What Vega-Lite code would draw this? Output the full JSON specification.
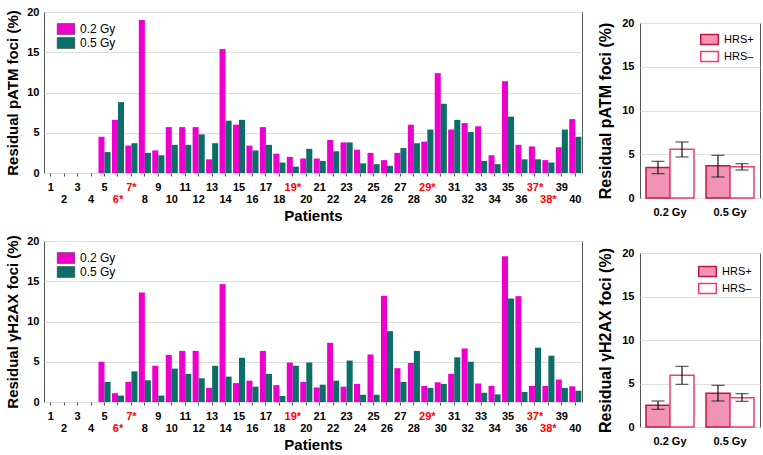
{
  "$schema": "https://vega.github.io/schema/vega-lite/v6.json",
  "padding": {"left": 5, "top": 5, "right": 4, "bottom": 2},
  "background": "white",
  "config": {
    "font": "Liberation Sans",
    "view": {"stroke": "#555555", "strokeWidth": 1},
    "axis": {"labelFont": "Liberation Sans", "titleFont": "Liberation Sans", "labelFontWeight": "bold", "titleFontWeight": "bold", "labelColor": "#000000", "titleColor": "#000000", "domain": false, "gridColor": "#dddddd", "gridWidth": 1},
    "legend": {"labelFont": "Liberation Sans", "labelColor": "#000000"}
  },
  "resolve": {"scale": {"xOffset": "independent", "color": "independent", "fill": "independent", "stroke": "independent"}, "legend": {"color": "independent", "fill": "independent", "stroke": "independent"}},
  "datasets": {
    "patm": [
      {"patient": 5, "dose": "0.2 Gy", "value": 4.5}, {"patient": 5, "dose": "0.5 Gy", "value": 2.6},
      {"patient": 6, "dose": "0.2 Gy", "value": 6.6}, {"patient": 6, "dose": "0.5 Gy", "value": 8.8},
      {"patient": 7, "dose": "0.2 Gy", "value": 3.4}, {"patient": 7, "dose": "0.5 Gy", "value": 3.7},
      {"patient": 8, "dose": "0.2 Gy", "value": 19.0}, {"patient": 8, "dose": "0.5 Gy", "value": 2.5},
      {"patient": 9, "dose": "0.2 Gy", "value": 2.8}, {"patient": 9, "dose": "0.5 Gy", "value": 2.2},
      {"patient": 10, "dose": "0.2 Gy", "value": 5.7}, {"patient": 10, "dose": "0.5 Gy", "value": 3.5},
      {"patient": 11, "dose": "0.2 Gy", "value": 5.7}, {"patient": 11, "dose": "0.5 Gy", "value": 3.5},
      {"patient": 12, "dose": "0.2 Gy", "value": 5.7}, {"patient": 12, "dose": "0.5 Gy", "value": 4.8},
      {"patient": 13, "dose": "0.2 Gy", "value": 1.7}, {"patient": 13, "dose": "0.5 Gy", "value": 3.7},
      {"patient": 14, "dose": "0.2 Gy", "value": 15.4}, {"patient": 14, "dose": "0.5 Gy", "value": 6.5},
      {"patient": 15, "dose": "0.2 Gy", "value": 6.0}, {"patient": 15, "dose": "0.5 Gy", "value": 6.6},
      {"patient": 16, "dose": "0.2 Gy", "value": 3.4}, {"patient": 16, "dose": "0.5 Gy", "value": 2.8},
      {"patient": 17, "dose": "0.2 Gy", "value": 5.7}, {"patient": 17, "dose": "0.5 Gy", "value": 3.5},
      {"patient": 18, "dose": "0.2 Gy", "value": 2.4}, {"patient": 18, "dose": "0.5 Gy", "value": 1.3},
      {"patient": 19, "dose": "0.2 Gy", "value": 2.0}, {"patient": 19, "dose": "0.5 Gy", "value": 0.8},
      {"patient": 20, "dose": "0.2 Gy", "value": 1.8}, {"patient": 20, "dose": "0.5 Gy", "value": 3.0},
      {"patient": 21, "dose": "0.2 Gy", "value": 1.8}, {"patient": 21, "dose": "0.5 Gy", "value": 1.5},
      {"patient": 22, "dose": "0.2 Gy", "value": 4.1}, {"patient": 22, "dose": "0.5 Gy", "value": 2.7},
      {"patient": 23, "dose": "0.2 Gy", "value": 3.8}, {"patient": 23, "dose": "0.5 Gy", "value": 3.8},
      {"patient": 24, "dose": "0.2 Gy", "value": 2.9}, {"patient": 24, "dose": "0.5 Gy", "value": 1.2},
      {"patient": 25, "dose": "0.2 Gy", "value": 2.5}, {"patient": 25, "dose": "0.5 Gy", "value": 1.1},
      {"patient": 26, "dose": "0.2 Gy", "value": 1.6}, {"patient": 26, "dose": "0.5 Gy", "value": 0.9},
      {"patient": 27, "dose": "0.2 Gy", "value": 2.5}, {"patient": 27, "dose": "0.5 Gy", "value": 3.1},
      {"patient": 28, "dose": "0.2 Gy", "value": 6.0}, {"patient": 28, "dose": "0.5 Gy", "value": 3.7},
      {"patient": 29, "dose": "0.2 Gy", "value": 3.9}, {"patient": 29, "dose": "0.5 Gy", "value": 5.4},
      {"patient": 30, "dose": "0.2 Gy", "value": 12.4}, {"patient": 30, "dose": "0.5 Gy", "value": 8.6},
      {"patient": 31, "dose": "0.2 Gy", "value": 5.4}, {"patient": 31, "dose": "0.5 Gy", "value": 6.6},
      {"patient": 32, "dose": "0.2 Gy", "value": 6.2}, {"patient": 32, "dose": "0.5 Gy", "value": 5.1},
      {"patient": 33, "dose": "0.2 Gy", "value": 5.8}, {"patient": 33, "dose": "0.5 Gy", "value": 1.5},
      {"patient": 34, "dose": "0.2 Gy", "value": 2.2}, {"patient": 34, "dose": "0.5 Gy", "value": 1.1},
      {"patient": 35, "dose": "0.2 Gy", "value": 11.4}, {"patient": 35, "dose": "0.5 Gy", "value": 7.0},
      {"patient": 36, "dose": "0.2 Gy", "value": 3.5}, {"patient": 36, "dose": "0.5 Gy", "value": 1.7},
      {"patient": 37, "dose": "0.2 Gy", "value": 3.3}, {"patient": 37, "dose": "0.5 Gy", "value": 1.7},
      {"patient": 38, "dose": "0.2 Gy", "value": 1.6}, {"patient": 38, "dose": "0.5 Gy", "value": 1.3},
      {"patient": 39, "dose": "0.2 Gy", "value": 3.2}, {"patient": 39, "dose": "0.5 Gy", "value": 5.4},
      {"patient": 40, "dose": "0.2 Gy", "value": 6.7}, {"patient": 40, "dose": "0.5 Gy", "value": 4.5}
    ],
    "h2ax": [
      {"patient": 5, "dose": "0.2 Gy", "value": 5.0}, {"patient": 5, "dose": "0.5 Gy", "value": 2.5},
      {"patient": 6, "dose": "0.2 Gy", "value": 1.1}, {"patient": 6, "dose": "0.5 Gy", "value": 0.8},
      {"patient": 7, "dose": "0.2 Gy", "value": 2.5}, {"patient": 7, "dose": "0.5 Gy", "value": 3.8},
      {"patient": 8, "dose": "0.2 Gy", "value": 13.6}, {"patient": 8, "dose": "0.5 Gy", "value": 2.7},
      {"patient": 9, "dose": "0.2 Gy", "value": 4.5}, {"patient": 9, "dose": "0.5 Gy", "value": 0.8},
      {"patient": 10, "dose": "0.2 Gy", "value": 5.85}, {"patient": 10, "dose": "0.5 Gy", "value": 4.15},
      {"patient": 11, "dose": "0.2 Gy", "value": 6.35}, {"patient": 11, "dose": "0.5 Gy", "value": 3.5},
      {"patient": 12, "dose": "0.2 Gy", "value": 6.35}, {"patient": 12, "dose": "0.5 Gy", "value": 2.95},
      {"patient": 13, "dose": "0.2 Gy", "value": 1.75}, {"patient": 13, "dose": "0.5 Gy", "value": 4.5},
      {"patient": 14, "dose": "0.2 Gy", "value": 14.65}, {"patient": 14, "dose": "0.5 Gy", "value": 3.15},
      {"patient": 15, "dose": "0.2 Gy", "value": 2.35}, {"patient": 15, "dose": "0.5 Gy", "value": 5.5},
      {"patient": 16, "dose": "0.2 Gy", "value": 2.65}, {"patient": 16, "dose": "0.5 Gy", "value": 1.9},
      {"patient": 17, "dose": "0.2 Gy", "value": 6.35}, {"patient": 17, "dose": "0.5 Gy", "value": 3.5},
      {"patient": 18, "dose": "0.2 Gy", "value": 2.1}, {"patient": 18, "dose": "0.5 Gy", "value": 0.75},
      {"patient": 19, "dose": "0.2 Gy", "value": 4.9}, {"patient": 19, "dose": "0.5 Gy", "value": 4.5},
      {"patient": 20, "dose": "0.2 Gy", "value": 2.5}, {"patient": 20, "dose": "0.5 Gy", "value": 4.9},
      {"patient": 21, "dose": "0.2 Gy", "value": 1.8}, {"patient": 21, "dose": "0.5 Gy", "value": 2.15},
      {"patient": 22, "dose": "0.2 Gy", "value": 7.35}, {"patient": 22, "dose": "0.5 Gy", "value": 2.65},
      {"patient": 23, "dose": "0.2 Gy", "value": 1.9}, {"patient": 23, "dose": "0.5 Gy", "value": 5.15},
      {"patient": 24, "dose": "0.2 Gy", "value": 2.25}, {"patient": 24, "dose": "0.5 Gy", "value": 0.9},
      {"patient": 25, "dose": "0.2 Gy", "value": 5.9}, {"patient": 25, "dose": "0.5 Gy", "value": 0.9},
      {"patient": 26, "dose": "0.2 Gy", "value": 13.2}, {"patient": 26, "dose": "0.5 Gy", "value": 8.8},
      {"patient": 27, "dose": "0.2 Gy", "value": 4.2}, {"patient": 27, "dose": "0.5 Gy", "value": 2.5},
      {"patient": 28, "dose": "0.2 Gy", "value": 4.85}, {"patient": 28, "dose": "0.5 Gy", "value": 6.35},
      {"patient": 29, "dose": "0.2 Gy", "value": 2.0}, {"patient": 29, "dose": "0.5 Gy", "value": 1.75},
      {"patient": 30, "dose": "0.2 Gy", "value": 2.45}, {"patient": 30, "dose": "0.5 Gy", "value": 2.25},
      {"patient": 31, "dose": "0.2 Gy", "value": 3.5}, {"patient": 31, "dose": "0.5 Gy", "value": 5.55},
      {"patient": 32, "dose": "0.2 Gy", "value": 6.65}, {"patient": 32, "dose": "0.5 Gy", "value": 5.0},
      {"patient": 33, "dose": "0.2 Gy", "value": 2.3}, {"patient": 33, "dose": "0.5 Gy", "value": 1.15},
      {"patient": 34, "dose": "0.2 Gy", "value": 2.0}, {"patient": 34, "dose": "0.5 Gy", "value": 0.95},
      {"patient": 35, "dose": "0.2 Gy", "value": 18.1}, {"patient": 35, "dose": "0.5 Gy", "value": 12.85},
      {"patient": 36, "dose": "0.2 Gy", "value": 13.15}, {"patient": 36, "dose": "0.5 Gy", "value": 1.25},
      {"patient": 37, "dose": "0.2 Gy", "value": 2.0}, {"patient": 37, "dose": "0.5 Gy", "value": 6.75},
      {"patient": 38, "dose": "0.2 Gy", "value": 2.0}, {"patient": 38, "dose": "0.5 Gy", "value": 5.75},
      {"patient": 39, "dose": "0.2 Gy", "value": 2.8}, {"patient": 39, "dose": "0.5 Gy", "value": 1.75},
      {"patient": 40, "dose": "0.2 Gy", "value": 1.95}, {"patient": 40, "dose": "0.5 Gy", "value": 1.4}
    ],
    "patm_sum": [
      {"dose": "0.2 Gy", "group": "HRS+", "mean": 3.5, "lo": 2.78, "hi": 4.19},
      {"dose": "0.2 Gy", "group": "HRS–", "mean": 5.56, "lo": 4.69, "hi": 6.4},
      {"dose": "0.5 Gy", "group": "HRS+", "mean": 3.7, "lo": 2.4, "hi": 4.88},
      {"dose": "0.5 Gy", "group": "HRS–", "mean": 3.58, "lo": 3.2, "hi": 3.92}
    ],
    "h2ax_sum": [
      {"dose": "0.2 Gy", "group": "HRS+", "mean": 2.49, "lo": 2.03, "hi": 2.99},
      {"dose": "0.2 Gy", "group": "HRS–", "mean": 5.94, "lo": 4.9, "hi": 6.97},
      {"dose": "0.5 Gy", "group": "HRS+", "mean": 3.87, "lo": 2.99, "hi": 4.79},
      {"dose": "0.5 Gy", "group": "HRS–", "mean": 3.37, "lo": 2.95, "hi": 3.83}
    ]
  },
  "hconcat": [
    {
      "spacing": 10,
      "resolve": {"scale": {"xOffset": "independent", "color": "independent"}, "legend": {"color": "independent"}},
      "vconcat": [
        {
          "width": 538, "height": 161,
          "data": {"name": "patm"},
          "mark": {"type": "bar"},
          "encoding": {
            "x": {"field": "patient", "type": "ordinal",
              "scale": {"domain": [1,2,3,4,5,6,7,8,9,10,11,12,13,14,15,16,17,18,19,20,21,22,23,24,25,26,27,28,29,30,31,32,33,34,35,36,37,38,39,40], "paddingInner": 0.1, "paddingOuter": 0.05},
              "axis": {"title": "Patients", "labelAngle": 0, "labelFontSize": 11, "labelLineHeight": 12, "labelPadding": 5, "ticks": true, "tickSize": 3, "tickColor": "#555555", "titleFontSize": 15, "titlePadding": 4,
                "labelExpr": "datum.value % 2 == 0 ? [' ', datum.label + (indexof([6,7,19,29,37,38], datum.value) >= 0 ? '*' : '')] : datum.label + (indexof([6,7,19,29,37,38], datum.value) >= 0 ? '*' : '')",
                "labelColor": {"condition": {"test": "indexof([6,7,19,29,37,38], datum.value) >= 0", "value": "#FF0000"}, "value": "#000000"}}},
            "xOffset": {"field": "dose", "type": "nominal", "scale": {"paddingInner": 0, "paddingOuter": 0}},
            "y": {"field": "value", "type": "quantitative", "scale": {"domain": [0, 20]},
              "axis": {"title": "Residual pATM foci (%)", "values": [0, 5, 10, 15, 20], "ticks": false, "labelPadding": 5, "labelFontSize": 11, "titleFontSize": 15, "titlePadding": 6}},
            "color": {"field": "dose", "type": "nominal", "scale": {"domain": ["0.2 Gy", "0.5 Gy"], "range": ["#EE00CC", "#0B6E68"]},
              "legend": {"title": null, "orient": "none", "legendX": 16, "legendY": 11, "padding": 0, "symbolType": "M-1.6,-1H1.6V1H-1.6Z", "symbolSize": 121, "symbolStrokeWidth": 0.5, "symbolStrokeColor": "#333333", "labelFontSize": 12, "rowPadding": 0, "labelOffset": 8}}
          }
        },
        {
          "width": 538, "height": 161,
          "data": {"name": "h2ax"},
          "mark": {"type": "bar"},
          "encoding": {
            "x": {"field": "patient", "type": "ordinal",
              "scale": {"domain": [1,2,3,4,5,6,7,8,9,10,11,12,13,14,15,16,17,18,19,20,21,22,23,24,25,26,27,28,29,30,31,32,33,34,35,36,37,38,39,40], "paddingInner": 0.1, "paddingOuter": 0.05},
              "axis": {"title": "Patients", "labelAngle": 0, "labelFontSize": 11, "labelLineHeight": 12, "labelPadding": 5, "ticks": true, "tickSize": 3, "tickColor": "#555555", "titleFontSize": 15, "titlePadding": 4,
                "labelExpr": "datum.value % 2 == 0 ? [' ', datum.label + (indexof([6,7,19,29,37,38], datum.value) >= 0 ? '*' : '')] : datum.label + (indexof([6,7,19,29,37,38], datum.value) >= 0 ? '*' : '')",
                "labelColor": {"condition": {"test": "indexof([6,7,19,29,37,38], datum.value) >= 0", "value": "#FF0000"}, "value": "#000000"}}},
            "xOffset": {"field": "dose", "type": "nominal", "scale": {"paddingInner": 0, "paddingOuter": 0}},
            "y": {"field": "value", "type": "quantitative", "scale": {"domain": [0, 20]},
              "axis": {"title": "Residual γH2AX foci (%)", "values": [0, 5, 10, 15, 20], "ticks": false, "labelPadding": 5, "labelFontSize": 11, "titleFontSize": 15, "titlePadding": 6}},
            "color": {"field": "dose", "type": "nominal", "scale": {"domain": ["0.2 Gy", "0.5 Gy"], "range": ["#EE00CC", "#0B6E68"]},
              "legend": {"title": null, "orient": "none", "legendX": 16, "legendY": 11, "padding": 0, "symbolType": "M-1.6,-1H1.6V1H-1.6Z", "symbolSize": 121, "symbolStrokeWidth": 0.5, "symbolStrokeColor": "#333333", "labelFontSize": 12, "rowPadding": 0, "labelOffset": 8}}
          }
        }
      ]
    },
    {
      "spacing": 28,
      "resolve": {"scale": {"xOffset": "independent", "fill": "independent", "stroke": "independent"}, "legend": {"fill": "independent", "stroke": "independent"}},
      "vconcat": [
        {
          "spacing": 0,
          "resolve": {"scale": {"xOffset": "independent", "fill": "independent", "stroke": "independent"}, "legend": {"fill": "independent", "stroke": "independent"}},
          "vconcat": [
            {
              "width": 120, "height": 2,
              "view": {"stroke": null},
              "data": {"values": [{}]},
              "mark": {"type": "point", "opacity": 0},
              "encoding": {}
            },
            {
              "width": 120, "height": 175,
              "data": {"name": "patm_sum"},
              "encoding": {
                "x": {"field": "dose", "type": "nominal", "scale": {"paddingInner": 0.2, "paddingOuter": 0.1},
                  "axis": {"title": null, "labelAngle": 0, "ticks": false, "labelPadding": 8, "labelFontSize": 11}},
                "xOffset": {"field": "group", "type": "nominal", "scale": {"domain": ["HRS+", "HRS–"], "paddingInner": 0, "paddingOuter": 0}}
              },
              "layer": [
                {
                  "mark": {"type": "bar", "strokeWidth": 1.5},
                  "encoding": {
                    "y": {"field": "mean", "type": "quantitative", "scale": {"domain": [0, 20]},
                      "axis": {"title": "Residual pATM foci (%)", "values": [0, 5, 10, 15, 20], "ticks": false, "labelPadding": 6, "labelFontSize": 11, "titleFontSize": 16, "titlePadding": 8}},
                    "fill": {"field": "group", "type": "nominal", "scale": {"domain": ["HRS+", "HRS–"], "range": ["#F093B5", "#FFFFFF"]},
                      "legend": {"title": null, "orient": "none", "legendX": 63, "legendY": 10, "padding": 0, "symbolType": "M-1.6,-0.9H1.6V0.9H-1.6Z", "symbolSize": 121, "symbolStrokeWidth": 1.5, "labelFontSize": 11, "rowPadding": 0, "labelOffset": 8}},
                    "stroke": {"field": "group", "type": "nominal", "scale": {"domain": ["HRS+", "HRS–"], "range": ["#C0183C", "#EE3A78"]}, "legend": null}
                  }
                },
                {
                  "mark": {"type": "rule", "color": "#111111", "strokeWidth": 1.2},
                  "encoding": {"y": {"field": "lo", "type": "quantitative"}, "y2": {"field": "hi"}}
                },
                {
                  "mark": {"type": "tick", "color": "#111111", "thickness": 1.2, "size": 13},
                  "encoding": {"y": {"field": "lo", "type": "quantitative"}}
                },
                {
                  "mark": {"type": "tick", "color": "#111111", "thickness": 1.2, "size": 13},
                  "encoding": {"y": {"field": "hi", "type": "quantitative"}}
                }
              ]
            }
          ]
        },
        {
          "width": 120, "height": 174,
          "data": {"name": "h2ax_sum"},
          "encoding": {
            "x": {"field": "dose", "type": "nominal", "scale": {"paddingInner": 0.2, "paddingOuter": 0.1},
              "axis": {"title": null, "labelAngle": 0, "ticks": false, "labelPadding": 8, "labelFontSize": 11}},
            "xOffset": {"field": "group", "type": "nominal", "scale": {"domain": ["HRS+", "HRS–"], "paddingInner": 0, "paddingOuter": 0}}
          },
          "layer": [
            {
              "mark": {"type": "bar", "strokeWidth": 1.5},
              "encoding": {
                "y": {"field": "mean", "type": "quantitative", "scale": {"domain": [0, 20]},
                  "axis": {"title": "Residual γH2AX foci (%)", "values": [0, 5, 10, 15, 20], "ticks": false, "labelPadding": 6, "labelFontSize": 11, "titleFontSize": 16, "titlePadding": 8}},
                "fill": {"field": "group", "type": "nominal", "scale": {"domain": ["HRS+", "HRS–"], "range": ["#F093B5", "#FFFFFF"]},
                  "legend": {"title": null, "orient": "none", "legendX": 61, "legendY": 12, "padding": 0, "symbolType": "M-1.6,-0.9H1.6V0.9H-1.6Z", "symbolSize": 121, "symbolStrokeWidth": 1.5, "labelFontSize": 11, "rowPadding": 0, "labelOffset": 8}},
                "stroke": {"field": "group", "type": "nominal", "scale": {"domain": ["HRS+", "HRS–"], "range": ["#C0183C", "#EE3A78"]}, "legend": null}
              }
            },
            {
              "mark": {"type": "rule", "color": "#111111", "strokeWidth": 1.2},
              "encoding": {"y": {"field": "lo", "type": "quantitative"}, "y2": {"field": "hi"}}
            },
            {
              "mark": {"type": "tick", "color": "#111111", "thickness": 1.2, "size": 13},
              "encoding": {"y": {"field": "lo", "type": "quantitative"}}
            },
            {
              "mark": {"type": "tick", "color": "#111111", "thickness": 1.2, "size": 13},
              "encoding": {"y": {"field": "hi", "type": "quantitative"}}
            }
          ]
        }
      ]
    }
  ],
  "spacing": 14
}
